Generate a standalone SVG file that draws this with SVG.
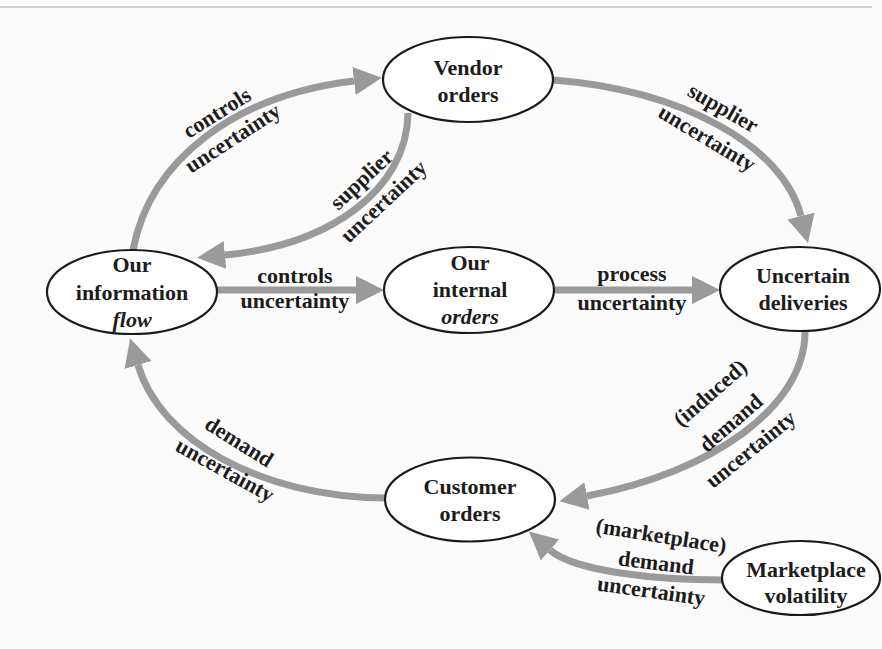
<svg xmlns="http://www.w3.org/2000/svg" width="882" height="649" viewBox="0 0 882 649">
  <style>
    .node ellipse { fill: #ffffff; stroke: #1a1a1a; stroke-width: 2.2; }
    .node text, .lbl text { font-family: "Liberation Serif", "Times New Roman", serif; font-weight: bold; font-size: 22px; fill: #1c1c1c; text-anchor: middle; }
    .it { font-style: italic; }
    .conn path { fill: none; stroke: #9a9a9a; stroke-width: 7; marker-end: url(#ah); }
  </style>
  <defs>
    <marker id="ah" markerUnits="userSpaceOnUse" viewBox="0 0 28 28" markerWidth="28" markerHeight="28" refX="0" refY="14" orient="auto">
      <path d="M0,0 L28,14 L0,28 Z" fill="#9a9a9a"/>
    </marker>
  </defs>
  <rect width="882" height="649" fill="#fbfbfb"/>
  <line x1="0" y1="7" x2="872" y2="7" stroke="#c4c4c4" stroke-width="1.5"/>

  <g id="connectors" class="conn">
    <path id="c-info-vendor" d="M133,250 C150,160 235,95 354,81"/>
    <path id="c-vendor-info" d="M408,113 C407,190 330,245 225,255"/>
    <path id="c-vendor-deliv" d="M553,80 C683,90 783,146 801,216"/>
    <path id="c-info-internal" d="M217,290 L356,290"/>
    <path id="c-internal-deliv" d="M555,290 L692,290"/>
    <path id="c-deliv-customer" d="M805,332 C805,405 715,472 587,496"/>
    <path id="c-customer-info" d="M385,498 C260,497 160,440 138,365"/>
    <path id="c-market-customer" d="M722,580 C660,580 575,572 550,550"/>
  </g>

  <g id="labels" class="lbl">
    <text transform="translate(217,113) rotate(-32)" y="7">controls</text>
    <text transform="translate(234,140) rotate(-33)" y="5">uncertainty</text>
    <text transform="translate(363,181) rotate(-43)" y="5">supplier</text>
    <text transform="translate(385,203) rotate(-43)" y="5">uncertainty</text>
    <text transform="translate(722,110) rotate(30)" y="5">supplier</text>
    <text transform="translate(706,140) rotate(31)" y="5">uncertainty</text>
    <text x="295" y="283">controls</text>
    <text x="295" y="308">uncertainty</text>
    <text x="632" y="281">process</text>
    <text x="632" y="310">uncertainty</text>
    <text transform="translate(711,394) rotate(-41)" y="6">(induced)</text>
    <text transform="translate(731,423) rotate(-41)" y="7">demand</text>
    <text transform="translate(752,451) rotate(-39)" y="5">uncertainty</text>
    <text transform="translate(239,442) rotate(32)" y="7">demand</text>
    <text transform="translate(224,472) rotate(29)" y="5">uncertainty</text>
    <text transform="translate(661,537) rotate(9)" y="6">(marketplace)</text>
    <text transform="translate(656,563) rotate(7)" y="7">demand</text>
    <text transform="translate(651,593) rotate(8)" y="5">uncertainty</text>
  </g>

  <g id="vendor-orders" class="node">
    <ellipse cx="468" cy="79.5" rx="85" ry="42.5"/>
    <text x="468" y="75">Vendor</text>
    <text x="468" y="102">orders</text>
  </g>
  <g id="our-information-flow" class="node">
    <ellipse cx="132" cy="292" rx="85" ry="42"/>
    <text x="132" y="272">Our</text>
    <text x="132" y="300">information</text>
    <text x="132" y="327" class="it">flow</text>
  </g>
  <g id="our-internal-orders" class="node">
    <ellipse cx="469" cy="290" rx="85" ry="43"/>
    <text x="470" y="270">Our</text>
    <text x="470" y="297">internal</text>
    <text x="470" y="324" class="it">orders</text>
  </g>
  <g id="uncertain-deliveries" class="node">
    <ellipse cx="800" cy="289" rx="80" ry="42"/>
    <text x="803" y="283">Uncertain</text>
    <text x="803" y="310">deliveries</text>
  </g>
  <g id="customer-orders" class="node">
    <ellipse cx="470" cy="499.5" rx="85" ry="42"/>
    <text x="470" y="494">Customer</text>
    <text x="470" y="521">orders</text>
  </g>
  <g id="marketplace-volatility" class="node">
    <ellipse cx="801" cy="578" rx="79" ry="37"/>
    <text x="806" y="577">Marketplace</text>
    <text x="806" y="603">volatility</text>
  </g>
</svg>
